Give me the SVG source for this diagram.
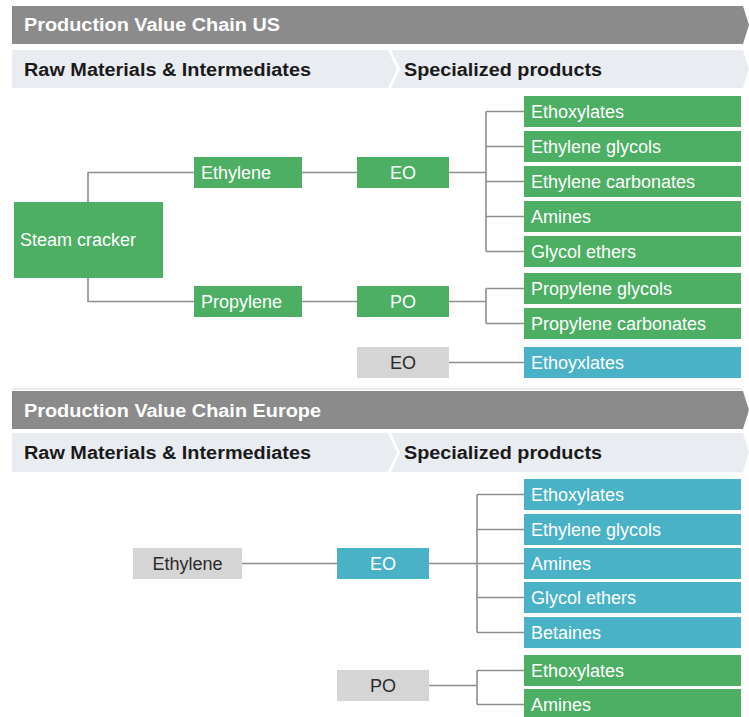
<svg xmlns="http://www.w3.org/2000/svg" width="749" height="717" viewBox="0 0 749 717">
<style>
.bg{fill:#ffffff}
.title{fill:#8b8b8b}
.sub{fill:#e9ecf1}
.ttl{font-family:"Liberation Sans",Arial,sans-serif;font-weight:bold;font-size:18px;fill:#ffffff}
.sh{font-family:"Liberation Sans",Arial,sans-serif;font-weight:bold;font-size:18px;fill:#1a1a1a}
.g{fill:#4caf63}
.t{fill:#4ab2c7}
.k{fill:#d5d5d5}
.lw{font-family:"Liberation Sans",Arial,sans-serif;font-size:18px;fill:#ffffff}
.ld{font-family:"Liberation Sans",Arial,sans-serif;font-size:18px;fill:#2a2a2a}
.c{text-anchor:middle}
.conn path{fill:none;stroke:#8e8e8e;stroke-width:1.6}
.sep{stroke:#d9d9d9;stroke-width:1.2}
</style>
<rect class="bg" x="0" y="0" width="749" height="717"/>

<g id="header-us">
<path class="title" d="M12,6 H743 L749,25 L743,44 H12 Z"/>
<text class="ttl" x="24" y="31" textLength="256" lengthAdjust="spacingAndGlyphs">Production Value Chain US</text>
<path class="sub" d="M12,50 H388 L397,69 L388,88 H12 Z"/>
<path class="sub" d="M391,50 H743 L749,69 L743,88 H391 L400,69 Z"/>
<text class="sh" x="24" y="76" textLength="287" lengthAdjust="spacingAndGlyphs">Raw Materials &amp; Intermediates</text>
<text class="sh" x="404" y="76" textLength="198" lengthAdjust="spacingAndGlyphs">Specialized products</text>
</g>

<g id="connectors" class="conn">
<path d="M88,202 V172.5 H194"/>
<path d="M88,278 V301.5 H194"/>
<path d="M302,172.5 H357"/>
<path d="M302,301.5 H357"/>
<path d="M449,172.5 H486"/>
<path d="M486,111.5 V251.5"/>
<path d="M486,111.5 H524 M486,146.5 H524 M486,181.5 H524 M486,216.5 H524 M486,251.5 H524"/>
<path d="M449,301.5 H486"/>
<path d="M486,288.5 V323.5 M486,288.5 H524 M486,323.5 H524"/>
<path d="M449,362.5 H524"/>
<path d="M242,563.5 H337"/>
<path d="M429,563.5 H477"/>
<path d="M477,494.5 V632.5"/>
<path d="M477,494.5 H524 M477,529.5 H524 M477,563.5 H524 M477,597.5 H524 M477,632.5 H524"/>
<path d="M429,685.5 H477"/>
<path d="M477,670.5 V704.5 M477,670.5 H524 M477,704.5 H524"/>
</g>

<g id="steam-cracker"><rect class="g" x="14" y="202" width="149" height="76"/><text class="lw" x="20" y="246">Steam cracker</text></g>
<g id="us-ethylene"><rect class="g" x="194" y="157" width="108" height="31"/><text class="lw" x="201" y="179">Ethylene</text></g>
<g id="us-eo"><rect class="g" x="357" y="157" width="92" height="31"/><text class="lw c" x="403" y="179">EO</text></g>
<g id="us-propylene"><rect class="g" x="194" y="286" width="108" height="31"/><text class="lw" x="201" y="308">Propylene</text></g>
<g id="us-po"><rect class="g" x="357" y="286" width="92" height="31"/><text class="lw c" x="403" y="308">PO</text></g>
<g id="us-eo-import"><rect class="k" x="357" y="347" width="92" height="31"/><text class="ld c" x="403" y="369">EO</text></g>

<g id="us-ethoxylates"><rect class="g" x="524" y="96" width="217" height="31"/><text class="lw" x="531" y="118">Ethoxylates</text></g>
<g id="us-ethylene-glycols"><rect class="g" x="524" y="131" width="217" height="31"/><text class="lw" x="531" y="153">Ethylene glycols</text></g>
<g id="us-ethylene-carbonates"><rect class="g" x="524" y="166" width="217" height="31"/><text class="lw" x="531" y="188">Ethylene carbonates</text></g>
<g id="us-amines"><rect class="g" x="524" y="201" width="217" height="31"/><text class="lw" x="531" y="223">Amines</text></g>
<g id="us-glycol-ethers"><rect class="g" x="524" y="236" width="217" height="31"/><text class="lw" x="531" y="258">Glycol ethers</text></g>
<g id="us-propylene-glycols"><rect class="g" x="524" y="273" width="217" height="31"/><text class="lw" x="531" y="295">Propylene glycols</text></g>
<g id="us-propylene-carbonates"><rect class="g" x="524" y="308" width="217" height="31"/><text class="lw" x="531" y="330">Propylene carbonates</text></g>
<g id="us-ethoyxlates"><rect class="t" x="524" y="347" width="217" height="31"/><text class="lw" x="531" y="369">Ethoyxlates</text></g>

<line class="sep" x1="12" y1="389" x2="742" y2="389"/>

<g id="header-eu">
<path class="title" d="M12,391 H743 L749,410 L743,429 H12 Z"/>
<text class="ttl" x="24" y="417" textLength="297" lengthAdjust="spacingAndGlyphs">Production Value Chain Europe</text>
<path class="sub" d="M12,433 H388 L397,452.5 L388,472 H12 Z"/>
<path class="sub" d="M391,433 H743 L749,452.5 L743,472 H391 L400,452.5 Z"/>
<text class="sh" x="24" y="459" textLength="287" lengthAdjust="spacingAndGlyphs">Raw Materials &amp; Intermediates</text>
<text class="sh" x="404" y="459" textLength="198" lengthAdjust="spacingAndGlyphs">Specialized products</text>
</g>

<g id="eu-ethylene"><rect class="k" x="133" y="548" width="109" height="31"/><text class="ld c" x="187.5" y="570">Ethylene</text></g>
<g id="eu-eo"><rect class="t" x="337" y="548" width="92" height="31"/><text class="lw c" x="383" y="570">EO</text></g>
<g id="eu-po"><rect class="k" x="337" y="670" width="92" height="31"/><text class="ld c" x="383" y="692">PO</text></g>

<g id="eu-ethoxylates"><rect class="t" x="524" y="479" width="217" height="31"/><text class="lw" x="531" y="501">Ethoxylates</text></g>
<g id="eu-ethylene-glycols"><rect class="t" x="524" y="514" width="217" height="31"/><text class="lw" x="531" y="536">Ethylene glycols</text></g>
<g id="eu-amines"><rect class="t" x="524" y="548" width="217" height="31"/><text class="lw" x="531" y="570">Amines</text></g>
<g id="eu-glycol-ethers"><rect class="t" x="524" y="582" width="217" height="31"/><text class="lw" x="531" y="604">Glycol ethers</text></g>
<g id="eu-betaines"><rect class="t" x="524" y="617" width="217" height="31"/><text class="lw" x="531" y="639">Betaines</text></g>
<g id="eu-po-ethoxylates"><rect class="g" x="524" y="655" width="217" height="31"/><text class="lw" x="531" y="677">Ethoxylates</text></g>
<g id="eu-po-amines"><rect class="g" x="524" y="689" width="217" height="31"/><text class="lw" x="531" y="711">Amines</text></g>
</svg>
